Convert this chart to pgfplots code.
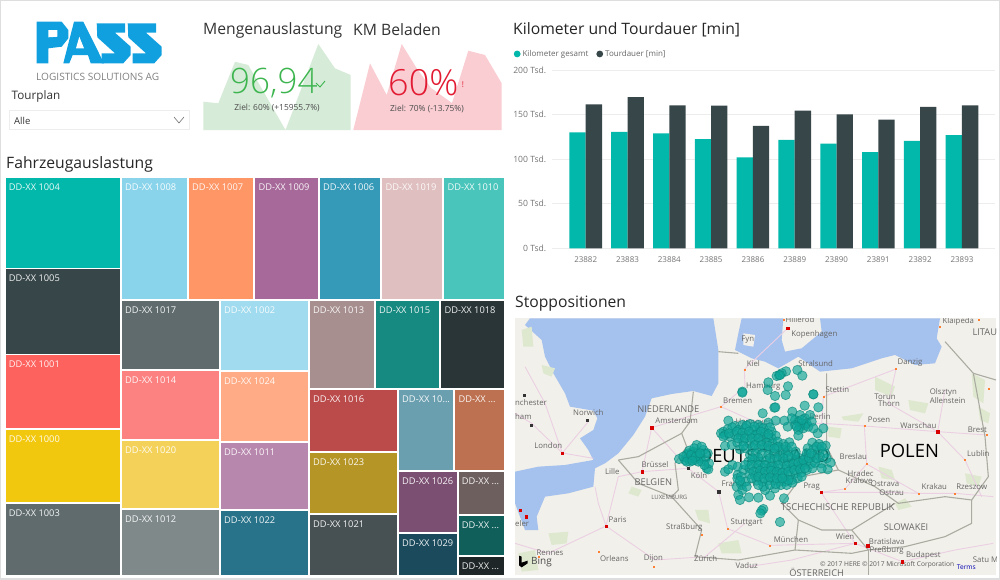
\documentclass[border=0pt]{standalone}
\usepackage{fontspec}
\usepackage{pgfplots}
\pgfplotsset{compat=1.18}
\setmainfont{Open Sans}
\newfontfamily\lightf{Open Sans Light}
\definecolor{teal}{HTML}{01B8AA}
\definecolor{dark}{HTML}{374649}
\definecolor{titlec}{HTML}{333333}
\definecolor{land}{HTML}{F2F0EA}
\definecolor{water}{HTML}{A5C1EE}
\definecolor{pat}{HTML}{DDE8CF}
\definecolor{road}{HTML}{EBCFE3}
\definecolor{bord}{HTML}{ABABA2}
\definecolor{logo}{HTML}{109FDF}
\definecolor{sg}{HTML}{D6EBD8}\definecolor{sr}{HTML}{F9CDD2}
\definecolor{kg}{HTML}{3DB54F}\definecolor{kr}{HTML}{E21B32}
\definecolor{stopf}{HTML}{0DA699}\definecolor{stopd}{HTML}{0B8A7E}
\newcommand{\dc}[1]{\definecolor{c#1}{HTML}{#1}}
\dc{FD625E}\dc{F2C80F}\dc{5F6B6D}\dc{8AD4EB}\dc{FE9666}\dc{A66999}\dc{3599B8}\dc{DFBFBF}\dc{4AC5BB}
\dc{FB8281}\dc{F4D25A}\dc{7F898A}\dc{A0DBEF}\dc{FFAB85}\dc{B887AD}\dc{28738A}\dc{A78F8F}\dc{168980}
\dc{293537}\dc{BB4A4A}\dc{B59525}\dc{475052}\dc{6A9FB0}\dc{BD7150}\dc{7B4F71}\dc{1A4A5C}\dc{6E5F5F}
\dc{105F5A}\dc{1E2627}\dc{01B8AA}\dc{374649}
\newcommand{\rect}[6]{%
  \addplot[fill=c#1,draw=none,mark=none,forget plot] coordinates {(#2,#3)(#4,#3)(#4,#5)(#2,#5)} --cycle;
  \node[anchor=north west,text=white,inner sep=0pt,font=\fontsize{9.3}{10}\selectfont,opacity=.93] at (axis cs:#2,#3) [xshift=3pt,yshift=-5.5pt] {#6};
}
\newcommand{\poly}[2]{\addplot[fill={#1},draw=none,mark=none,forget plot] coordinates {#2} --cycle;}
\newcommand{\ml}[3][]{\node[font=\fontsize{7.8}{9}\selectfont,text=black!60,inner sep=0pt,#1] at (axis cs:#2) {#3};}
\begin{document}
\begin{tikzpicture}
% ---------- base: treemap, KPI cards, titles, logo
\begin{axis}[at={(0,0)},anchor=south west,scale only axis,width=1000pt,height=579pt,
  xmin=0,xmax=1000,ymin=0,ymax=579,y dir=reverse,hide axis]
\addplot[draw=black!13,line width=2pt,mark=none,forget plot] coordinates {(0,0)(1000,0)(1000,579)(0,579)} --cycle;
% logo
\poly{logo}{(36.7,21.7)(61.7,21.7)(68.3,30)(68.3,38.3)(61.7,46.7)(48.3,48.3)(48.3,63.3)(36.7,63.3)}
\poly{white}{(48.3,30)(57.3,30)(57.3,36.7)(48.3,37.3)}
\poly{logo}{(74,21.7)(83.3,21.7)(104,63.3)(90.7,63.3)(88,55)(72.7,55)(69.3,63.3)(63.3,63.3)}
\poly{white}{(79.3,36.7)(84,48.3)(76,48.3)}
\poly{logo}{(96.7,23.3)(125,23.3)(125,32.7)(115,32.7)(130.7,46.7)(130.7,55)(123.3,63.3)(101.7,63.3)(101.7,53.3)(115,53.3)(97.3,37.3)}
\poly{logo}{(127.7,23.3)(156,23.3)(156,32.7)(146,32.7)(161.7,46.7)(161.7,55)(154.3,63.3)(132.7,63.3)(132.7,53.3)(146,53.3)(128.3,37.3)}
\node[anchor=west,inner sep=0pt,text=black!50,font=\fontsize{10.1}{12}\selectfont] at (axis cs:36,76.5) {LOGISTICS SOLUTIONS AG};
\node[anchor=west,inner sep=0pt,text=titlec,font=\fontsize{11.7}{13}\selectfont] at (axis cs:11.5,96) {Tourplan};
\addplot[draw=black!7,fill=white,mark=none,forget plot] coordinates {(9,110)(189,110)(189,129)(9,129)} --cycle;
\node[anchor=west,inner sep=0pt,text=titlec,font=\fontsize{9.5}{11}\selectfont] at (axis cs:14,120.5) {Alle};
\addplot[draw=black!55,line width=.6pt,mark=none,forget plot] coordinates {(174,117)(179,123)(184,117)};
% KPI titles
\node[anchor=west,inner sep=0pt,text=titlec,font=\fontsize{15.7}{18}\selectfont] at (axis cs:203,30) {Mengenauslastung};
\node[anchor=west,inner sep=0pt,text=titlec,font=\fontsize{15.7}{18}\selectfont] at (axis cs:353,30) {KM Beladen};
\node[anchor=west,inner sep=0pt,text=black!85,font=\fontsize{15.7}{18}\selectfont] at (axis cs:513,30) {Kilometer und Tourdauer [min]};
\node[anchor=west,inner sep=0pt,text=black!85,font=\fontsize{15.7}{18}\selectfont] at (axis cs:6,164.5) {Fahrzeugauslastung};
\node[anchor=west,inner sep=0pt,text=black!85,font=\fontsize{15.7}{18}\selectfont] at (axis cs:515,304) {Stoppositionen};
% sparklines
\poly{sg}{(203.3,130)(203.3,101.7)(218.3,103.3)(235,61.7)(248.3,65)(285.5,130)(318.3,44)(335,68.3)(350.7,75)(350.7,130)}
\poly{sr}{(353.3,130)(370,63.3)(386.7,95)(401.7,44)(416.7,68.3)(431,88)(452,103)(468.3,50.7)(485,55)(501.7,83.3)(501.7,130)}
\node[anchor=west,inner sep=0pt,text=kg,font=\fontsize{35}{40}\lightf] at (axis cs:230,83) {96,94};
\node[anchor=west,inner sep=0pt,text=kr,font=\fontsize{36}{40}\lightf] at (axis cs:388,83) {60\%};
\addplot[draw=kg,line width=.9pt,mark=none,forget plot] coordinates {(316,83)(320,87)(325,81)};
\node[inner sep=0pt,text=kr,font=\fontsize{8}{9}\selectfont] at (axis cs:463,85) {!};
\node[inner sep=0pt,text=black!70,font=\fontsize{8.4}{9}\selectfont] at (axis cs:277,108) {Ziel: 60\% (+15955.7\%)};
\node[inner sep=0pt,text=black!70,font=\fontsize{8.4}{9}\selectfont] at (axis cs:427,109) {Ziel: 70\% (-13.75\%)};
% treemap
\rect{01B8AA}{5.7}{178.3}{120}{267.7}{DD-XX 1004}
\rect{374649}{5.7}{269.3}{120}{353.7}{DD-XX 1005}
\rect{FD625E}{5.7}{355.3}{120}{428.3}{DD-XX 1001}
\rect{F2C80F}{5.7}{430}{120}{502.3}{DD-XX 1000}
\rect{5F6B6D}{5.7}{504.3}{120}{575}{DD-XX 1003}
\rect{8AD4EB}{122}{178.3}{187}{299.3}{DD-XX 1008}
\rect{FE9666}{189}{178.3}{253.3}{299.3}{DD-XX 1007}
\rect{A66999}{255.3}{178.3}{318.3}{299.3}{DD-XX 1009}
\rect{3599B8}{320}{178.3}{380.3}{299.3}{DD-XX 1006}
\rect{DFBFBF}{382.3}{178.3}{442.3}{299.3}{DD-XX 1019}
\rect{4AC5BB}{444.3}{178.3}{503.7}{299.3}{DD-XX 1010}
\rect{5F6B6D}{122}{301}{219.3}{369}{DD-XX 1017}
\rect{FB8281}{122}{371}{219.3}{438.7}{DD-XX 1014}
\rect{F4D25A}{122}{440.7}{219.3}{508}{DD-XX 1020}
\rect{7F898A}{122}{510}{219.3}{575}{DD-XX 1012}
\rect{A0DBEF}{221}{301}{308.3}{370.3}{DD-XX 1002}
\rect{FFAB85}{221}{372.3}{308.3}{441}{DD-XX 1024}
\rect{B887AD}{221}{443}{308.3}{508.7}{DD-XX 1011}
\rect{28738A}{221}{510.7}{308.3}{575}{DD-XX 1022}
\rect{A78F8F}{310}{301}{374}{388.3}{DD-XX 1013}
\rect{168980}{376}{301}{439.3}{388.3}{DD-XX 1015}
\rect{293537}{441.3}{301}{503.7}{388.3}{DD-XX 1018}
\rect{BB4A4A}{310}{390.3}{397}{451}{DD-XX 1016}
\rect{B59525}{310}{453}{397}{513.3}{DD-XX 1023}
\rect{475052}{310}{515.3}{397}{575}{DD-XX 1021}
\rect{6A9FB0}{399}{390.3}{453.3}{469.7}{DD-XX 10...}
\rect{BD7150}{455.3}{390.3}{503.7}{469.7}{DD-XX ...}
\rect{7B4F71}{399}{471.7}{456.7}{531.7}{DD-XX 1026}
\rect{1A4A5C}{399}{533.7}{456.7}{575}{DD-XX 1029}
\rect{6E5F5F}{458.7}{471.7}{503.7}{514}{DD-XX ...}
\rect{105F5A}{458.7}{516}{503.7}{554.7}{DD-XX ...}
\rect{1E2627}{458.7}{556.7}{503.7}{575}{DD-XX ...}
\end{axis}
% ---------- bar chart
\begin{axis}[at={(551.7pt,330.7pt)},anchor=south west,scale only axis,width=443.3pt,height=178.3pt,
  ybar,bar width=16.3pt,bar shift=0pt,
  xmin=-0.813,xmax=9.79,ymin=0,ymax=200,
  xtick={0,...,9},xticklabels={23882,23883,23884,23885,23886,23889,23890,23891,23892,23893},
  ytick={0,50,100,150,200},yticklabel={\pgfmathprintnumber[assume math mode=true]{\tick} Tsd.},
  axis line style={draw=none},major tick length=0pt,
  ymajorgrids,grid style={black!7,line width=.6pt},axis on top=false,
  tick label style={text=black!55},
  xticklabel style={yshift=-5pt,font=\fontsize{8}{9}\selectfont},yticklabel style={xshift=-2pt,font=\fontsize{8.6}{9}\selectfont},
  legend style={at={(-0.086,1.09)},anchor=west,draw=none,fill=none,inner sep=0pt,legend columns=2,
    font=\fontsize{8}{9}\selectfont,text=black!60,/tikz/every even column/.append style={column sep=6pt}},
  legend cell align=left,
  legend image code/.code={\fill[#1] (0.12cm,0) circle (3.4pt);}]
\addplot[fill=teal,draw=none,bar shift=-8.15pt] coordinates {(0,130)(1,130.5)(2,129)(3,122.6)(4,102)(5,121.5)(6,117.4)(7,108)(8,120.4)(9,127)};
\addlegendentry{Kilometer gesamt}
\addplot[fill=dark,draw=none,bar shift=8.15pt] coordinates {(0,161.5)(1,169.7)(2,160.4)(3,160)(4,137.2)(5,154.4)(6,150.3)(7,144.3)(8,158.5)(9,160.4)};
\addlegendentry{Tourdauer [min]}
\end{axis}
% ---------- map
\begin{axis}[at={(515pt,4pt)},anchor=south west,scale only axis,width=481pt,height=256.7pt,
  xmin=30,xmax=1473,ymin=85,ymax=855,y dir=reverse,hide axis,clip=true]
\poly{land}{(30,85)(1473,85)(1473,855)(30,855)}
% water
\poly{water}{(75,85)(60,105)(110,150)(120,200)(145,250)(180,310)(195,350)(265,362)(277,385)(265,420)(225,445)(250,480)(265,510)(180,525)(100,530)(30,545)(30,640)(60,720)(100,720)(95,680)(120,620)(190,610)(265,590)(270,535)(300,520)(340,490)(385,435)(420,380)(440,325)(500,312)(565,303)(620,318)(640,280)(640,180)(625,85)}
\poly{water}{(710,85)(700,130)(690,180)(740,205)(780,215)(820,235)(880,200)(945,245)(1040,235)(1130,205)(1170,195)(1230,225)(1290,220)(1310,170)(1295,145)(1305,85)(945,85)(950,125)(890,175)(840,185)(830,150)(835,85)}
\poly{land}{(715,130)(750,135)(745,170)(715,165)}
% green areas
\poly{pat}{(50,120)(80,110)(85,170)(55,170)}
\poly{pat}{(110,225)(150,235)(140,260)(115,250)}
\poly{pat}{(1110,260)(1170,290)(1160,320)(1110,300)}
\poly{pat}{(1400,250)(1440,270)(1435,340)(1405,320)}
\poly{pat}{(1420,350)(1455,370)(1450,400)(1425,390)}
\poly{pat}{(970,410)(1010,415)(1005,445)(970,440)}
\poly{pat}{(1010,380)(1075,370)(1060,395)(1015,390)}
\poly{pat}{(1120,530)(1160,540)(1170,570)(1130,565)}
\poly{pat}{(1380,550)(1430,560)(1420,590)(1385,580)}
\poly{pat}{(1170,640)(1200,625)(1220,650)(1180,660)}
\poly{pat}{(570,660)(610,660)(615,700)(580,690)}
\poly{pat}{(130,730)(190,725)(185,760)(140,765)}
\poly{pat}{(380,590)(410,600)(400,620)(370,610)}
\poly{pat}{(640,760)(700,750)(710,790)(650,790)}
\poly{pat}{(40,790)(90,780)(100,840)(50,845)}
\poly{pat}{(1210,330)(1270,340)(1260,370)(1215,360)}
% roads
\pgfplotsset{rd/.style={draw=road,line width=.9pt,mark=none,forget plot}}
\addplot[rd] coordinates {(30,370)(80,400)(172,489)(265,505)};
\addplot[rd] coordinates {(172,489)(120,340)(60,230)};
\addplot[rd] coordinates {(172,489)(250,395)};
\addplot[rd] coordinates {(303,708)(340,560)(411,545)(440,413)};
\addplot[rd] coordinates {(303,708)(130,790)(30,760)};
\addplot[rd] coordinates {(303,708)(450,810)(600,800)(720,700)};
\addplot[rd] coordinates {(303,708)(280,640)(270,590)};
\addplot[rd] coordinates {(411,545)(549,535)(641,605)(668,716)(795,766)(1050,760)(1192,815)};
\addplot[rd] coordinates {(440,413)(648,350)(720,290)(718,238)};
\addplot[rd] coordinates {(648,350)(760,400)(950,400)(1078,408)(1298,425)(1445,435)};
\addplot[rd] coordinates {(950,400)(955,320)(1173,237)};
\addplot[rd] coordinates {(1173,237)(1150,340)(1298,425)(1380,510)(1430,620)};
\addplot[rd] coordinates {(1085,522)(1020,597)(948,607)(1050,760)};
\addplot[rd] coordinates {(1085,522)(1240,610)(1350,610)(1465,620)};
\addplot[rd] coordinates {(948,607)(1160,607)(1240,610)};
\addplot[rd] coordinates {(1320,300)(1298,425)};
\addplot[rd] coordinates {(848,115)(718,238)};
\addplot[rd] coordinates {(1078,408)(1085,522)};
\addplot[rd] coordinates {(1192,815)(1350,780)(1465,760)};
\addplot[rd] coordinates {(440,413)(549,535)};
\addplot[rd] coordinates {(1050,760)(860,810)(730,830)};
% borders
\pgfplotsset{bd/.style={draw=bord,line width=1.1pt,mark=none,forget plot}}
\addplot[bd] coordinates {(965,250)(965,350)(965,470)(1000,540)(1110,590)(1180,640)(1320,620)(1400,630)(1450,560)(1440,440)(1405,250)(1320,155)};
\addplot[bd] coordinates {(1000,540)(890,560)(830,640)(880,690)(950,720)(1040,720)(1170,640)};
\addplot[bd] coordinates {(1040,720)(1090,780)(1200,770)(1320,740)(1400,700)(1400,630)};
\addplot[bd] coordinates {(1090,780)(1090,855)};
\addplot[bd] coordinates {(640,185)(700,190)};
\addplot[bd] coordinates {(565,305)(555,395)(530,430)(545,470)(510,520)(520,600)(500,620)(590,720)(570,800)(700,810)(870,780)(880,690)};
\addplot[bd] coordinates {(870,780)(1040,790)(1090,780)};
\addplot[bd] coordinates {(340,510)(400,580)(500,620)};
\addplot[bd] coordinates {(530,430)(400,500)(340,510)};
\addplot[bd] coordinates {(1405,250)(1473,270)};
% labels
\ml{885,90}{Hillerod}\ml{928,133}{Kopenhagen}\ml{728,148}{Fyn}\ml{745,222}{Kiel}\ml{932,222}{Stralsund}
\ml{1360,95}{Klaipeda}\ml{1215,217}{Danzig}\ml{775,290}{Hamburg}\ml{997,300}{Stettin}\ml{698,332}{Bremen}
\ml{1140,320}{Torun}\ml{1152,342}{Thorn}\ml{1315,306}{Olsztyn}\ml{1328,331}{Allenstein}\ml{250,367}{Norwich}
\ml{515,393}{Amsterdam}\ml{1122,389}{Posen}\ml{1240,407}{Warschau}\ml{1417,418}{Brest}\ml[anchor=west]{30,338}{nchester}
\ml[anchor=west]{30,381}{ham}\ml{130,468}{London}\ml{1045,500}{Breslau}\ml{1420,492}{Lublin}\ml{450,525}{Brüssel}
\ml{322,545}{Lille}\ml{582,557}{Köln}\ml{1067,552}{Hradec}\ml{1062,573}{Kralove}\ml{1140,582}{Ostrava}\ml{1160,607}{Ostrau}
\ml{1288,590}{Krakau}\ml{1400,590}{Rzeszow}\ml{700,582}{Frankfurt}\ml{920,590}{Prag}\ml{338,688}{Paris}\ml{725,698}{Stuttgart}
\ml{538,713}{Straßburg}\ml{858,748}{München}\ml{1020,740}{Wien}\ml{1145,755}{Bratislava}\ml{1145,782}{Preßburg}\ml{1255,796}{Budapest}
\ml{135,788}{Rennes}\ml{328,806}{Orleans}\ml{445,806}{Dijon}\ml{602,806}{Zürich}\ml{725,826}{Vaduz}\ml[anchor=west]{1403,810}{Satu M}
\ml{745,395}{Hannover}\ml{945,380}{Berlin}\ml[anchor=west]{30,700}{eler}
\ml[anchor=west]{1402,127}{\fontsize{9.3}{10}\selectfont LITAU}
\ml{490,357}{\fontsize{9.3}{10}\selectfont NIEDERLANDE}
\ml{445,577}{\fontsize{9.3}{10}\selectfont BELGIEN}
\ml{493,622}{\fontsize{6}{7}\selectfont LUXEMBURG}
\ml{998,652}{\fontsize{9.5}{10}\selectfont TSCHECHISCHE REPUBLIK}
\ml{1203,712}{\fontsize{9.3}{10}\selectfont SLOWAKEI}
\ml{935,847}{\fontsize{9.3}{10}\selectfont ÖSTERREICH}
\node[inner sep=0pt,text=black,font=\fontsize{18.4}{20}\selectfont] at (axis cs:1213,482) {POLEN};
\node[inner sep=0pt,text=black,font=\fontsize{18.4}{20}\selectfont] at (axis cs:778,497) {DEUTSCHLAND};
\node[anchor=west,inner sep=0pt,text=black!65,font=\fontsize{6.6}{7}\selectfont] at (axis cs:945,825) {© 2017 HERE © 2017 Microsoft Corporation};
\node[anchor=west,inner sep=0pt,text=blue!70!black,font=\fontsize{6.6}{7}\selectfont] at (axis cs:1355,832) {Terms};
\node[anchor=west,inner sep=0pt,text=black!70,font=\fontsize{10}{11}\selectfont] at (axis cs:78,815) {Bing};
\poly{black}{(42,797)(50,800)(50,818)(68,812)(68,820)(50,832)(42,826)}
% cities
\addplot[only marks,mark=square*,mark size=1.1pt,color=red!85!black,forget plot] coordinates {(848,115)(440,413)(172,489)(1298,425)(411,545)(948,607)(303,708)(1050,760)(1088,767)(1192,815)(63,680)(45,660)};
\addplot[only marks,mark=square*,mark size=1.1pt,color=black!80,forget plot] coordinates {(58,315)(78,405)(247,390)(549,535)(641,605)};
\addplot[only marks,mark=square*,mark size=.6pt,color=orange!75!red!80,forget plot] coordinates {(718,238)(648,350)(1173,237)(1078,408)(955,320)(1380,510)(1085,522)(668,716)(795,766)(1240,610)(1350,610)(1020,597)(1420,88)(1305,110)(1445,435)(1450,295)(590,733)(280,785)(100,800)(445,830)(835,88)};
% stops
\addplot[only marks,mark=*,mark size=4.7pt,mark options={fill=stopf,fill opacity=.66,draw=stopd,draw opacity=.7,line width=.7pt}] coordinates {
(877,240)(892,257)(843,244)(830,250)(822,256)(815,258)(825,255)(790,277)(788,300)(849,289)(810,318)(842,315)(712,305)(712,308)(925,313)(925,313)(808,353)(811,352)(773,370)(899,347)(940,352)(862,365)
(885,375)(900,385)(870,390)(915,375)(880,395)(890,400)(900,405)(885,410)(870,405)(895,415)(880,420)(905,400)(890,390)(875,410)(910,410)(920,395)(860,385)(848,410)(880,437)(938,430)(955,415)(925,415)(838,392)(812,392)
(670,392)(690,408)(712,405)(735,402)(760,405)(790,398)
(655,425)(668,418)(682,412)(648,430)(660,435)
(700,420)(720,415)(745,420)(765,412)(780,428)(800,425)(812,437)(800,445)
(675,440)(690,435)(708,440)(725,435)(740,432)(758,430)(775,440)(790,442)
(660,468)(680,465)(697,458)(715,455)(733,460)(750,452)(768,455)(785,458)(803,460)(818,455)(835,462)(853,457)
(705,478)(723,475)(742,472)(760,476)(778,472)(796,478)(815,472)(833,478)(850,483)
(735,495)(752,490)(770,492)(790,495)(808,490)(825,497)(842,490)(872,485)(858,503)
(660,545)(670,538)(682,525)(698,530)(730,515)(748,510)(765,515)(783,512)(800,518)(818,510)(835,515)(852,520)(870,510)(885,505)
(698,555)(715,540)(733,535)(755,535)(772,532)(790,535)(808,532)(825,535)(842,538)(860,535)(878,530)(895,525)(905,515)(918,522)(903,500)(890,520)
(697,565)(735,552)(750,558)(768,552)(785,555)(803,552)(820,555)(838,558)(855,555)(872,550)(888,548)(905,540)(922,535)
(710,585)(695,590)(755,572)(772,575)(790,572)(808,570)(825,575)(842,575)(860,570)(878,565)
(712,600)(700,615)(705,630)(732,622)(760,623)(795,617)(780,600)(810,595)(828,585)(775,590)
(837,625)(775,657)(770,662)(766,670)(825,696)
(922,458)(942,462)(962,467)(908,475)(925,478)(945,480)(960,490)(905,490)(925,497)(945,500)(965,505)(977,518)(968,538)(948,520)(930,518)(950,535)
(522,507)(540,510)(550,490)(565,485)(575,465)(575,490)(560,500)(585,505)(600,490)(595,480)(605,535)(610,538)(590,515)(545,495)(570,510)(555,515)(600,510)(560,490)(548,505)(578,497)(565,505)
(535,500)(553,482)(568,475)(590,470)(608,490)(612,520)(598,525)(580,515)(558,495)(572,500)(585,490)(545,515)(562,512)
(725,407)(748,410)(775,415)(795,412)(655,440)(672,430)(695,425)(712,428)(732,425)(752,435)(768,425)(790,432)(820,470)(842,470)(700,445)(720,445)(740,445)(760,445)
(715,468)(750,465)(770,465)(790,468)(808,475)(860,470)(870,495)(850,498)(835,505)(815,503)(795,505)(760,503)(742,505)
(720,525)(740,525)(760,525)(780,525)(800,530)(820,525)(845,528)(865,522)(880,518)(895,510)(912,505)(935,505)(918,490)(935,470)(950,470)
(708,560)(722,575)(745,545)(765,542)(780,545)(798,542)(815,545)(832,548)(850,545)(868,540)(885,538)(900,535)(760,585)(795,585)(812,582)(845,585)(862,578)
(850,570)(725,590)(705,572)(740,565)(760,560)(778,565)(795,562)(815,565)(832,565)(890,560)
};
\end{axis}
\end{tikzpicture}
\end{document}
